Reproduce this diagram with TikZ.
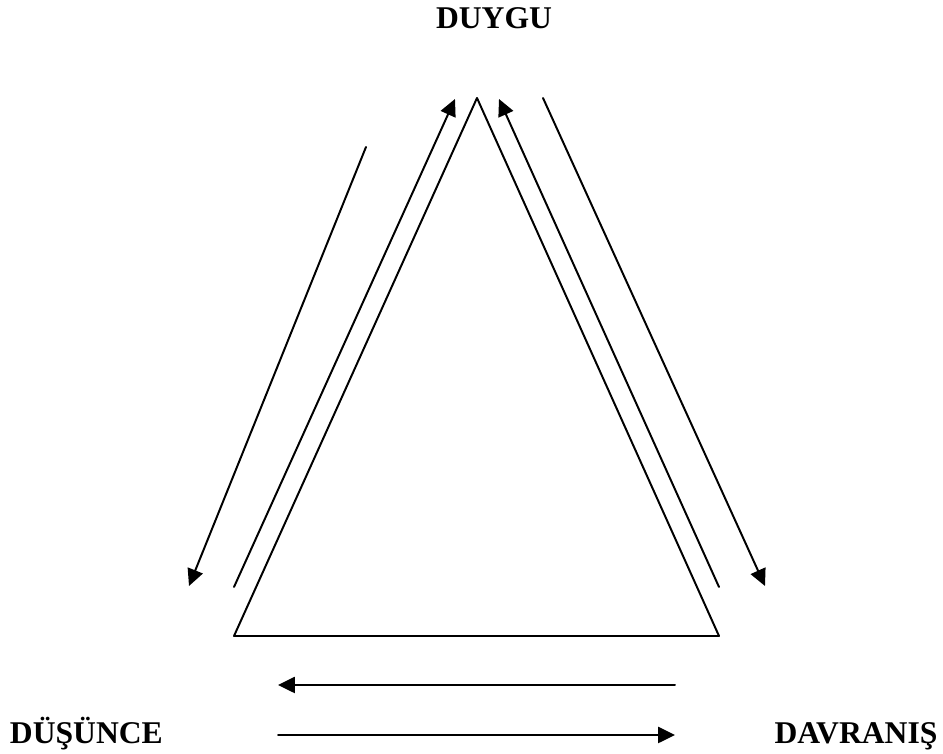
\documentclass[tikz,border=0pt]{standalone}
\usepackage{fontspec}
\setmainfont{Liberation Serif}
\usetikzlibrary{arrows.meta}

\begin{document}
\begin{tikzpicture}[
  >={Triangle[length=0.42cm,width=0.40cm]},
  line cap=round,
  line join=round,
  every node/.style={font=\fontsize{22.5pt}{27pt}\selectfont\bfseries},
  side/.style={line width=1.4pt},
  flow/.style={line width=1.4pt,->}
]
\useasboundingbox (0,0) rectangle (23.575,18.85);

% ------------------------------------------------------------------
% Triangle
% ------------------------------------------------------------------
\coordinate (T1) at (5.85,2.95);
\coordinate (T2) at (17.975,2.95);
\coordinate (T3) at (11.925,16.40);

\draw[side] (T1)--(T2)--(T3)--cycle;

% ------------------------------------------------------------------
% Labels
% ------------------------------------------------------------------
\node[anchor=base] (duygu) at (12.35,18.125) {DUYGU};
\node[anchor=base] (dusunce) at (2.16,0.25) {DÜŞÜNCE};
\node[anchor=base] (davranis) at (21.40,0.25) {DAVRANIŞ};

% ------------------------------------------------------------------
% Arrows along the sides
% ------------------------------------------------------------------
\coordinate (la0) at (5.85,4.175);
\coordinate (la1) at (11.375,16.375);
\draw[flow] (la0)--(la1);

\coordinate (lb0) at (9.15,15.175);
\coordinate (lb1) at (4.725,4.20);
\draw[flow] (lb0)--(lb1);

\coordinate (ra0) at (17.975,4.175);
\coordinate (ra1) at (12.475,16.375);
\draw[flow] (ra0)--(ra1);

\coordinate (rb0) at (13.575,16.40);
\coordinate (rb1) at (19.125,4.20);
\draw[flow] (rb0)--(rb1);

\coordinate (ba0) at (16.875,1.725);
\coordinate (ba1) at (6.95,1.725);
\draw[flow] (ba0)--(ba1);

\coordinate (bb0) at (6.95,0.475);
\coordinate (bb1) at (16.875,0.475);
\draw[flow] (bb0)--(bb1);

\end{tikzpicture}
\end{document}
